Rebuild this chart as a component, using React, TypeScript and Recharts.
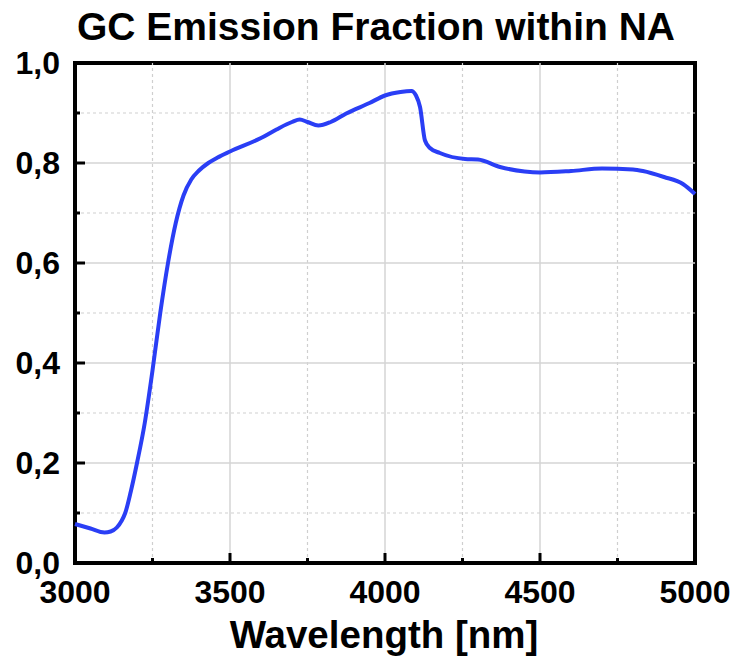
import React from 'react';
import { LineChart, Line, XAxis, YAxis, ReferenceLine, ReferenceArea } from 'recharts';

const wavelength = [
  3000, 3050, 3095, 3115, 3135, 3150, 3162, 3180, 3200, 3225, 3250, 3275, 3300, 3325, 3350, 3375,
  3400, 3430, 3460, 3500, 3600, 3650, 3700, 3725, 3750, 3785, 3825, 3875, 3950, 4000, 4050,
  4085, 4100, 4113, 4129, 4145, 4177, 4258, 4300, 4371, 4450, 4500, 4600, 4700, 4800, 4832,
  4900, 4961, 5000,
];
const fraction = [
  0.078, 0.069, 0.061, 0.063, 0.071, 0.084, 0.1, 0.143, 0.2, 0.28, 0.385, 0.5, 0.6, 0.68, 0.735, 0.767,
  0.785, 0.8, 0.811, 0.823, 0.85, 0.867, 0.882, 0.887, 0.882, 0.875, 0.882, 0.899, 0.92, 0.935, 0.942,
  0.944, 0.935, 0.912, 0.845, 0.83, 0.82, 0.808, 0.807, 0.792, 0.783, 0.781, 0.784, 0.789, 0.787, 0.784,
  0.772, 0.758, 0.738,
];

const xTicks = [3000, 3250, 3500, 3750, 4000, 4250, 4500, 4750, 5000];
const xMajor = [3000, 3500, 4000, 4500, 5000];
const yTicks = [0, 0.1, 0.2, 0.3, 0.4, 0.5, 0.6, 0.7, 0.8, 0.9, 1.0];
const yMajor = [0, 0.2, 0.4, 0.6, 0.8, 1.0];

const title = 'GC Emission Fraction within NA';
const xLabel = 'Wavelength [nm]';

const data = wavelength.map((w, i) => ({ w, f: fraction[i] }));

const FONT = '"Liberation Sans", Arial, Helvetica, sans-serif';
const Y_MARGIN = 15;
const X_MARGIN = 10;

const isYMajor = (v: number) => yMajor.some((m) => Math.abs(m - v) < 1e-9);
const isXMajor = (v: number) => xMajor.includes(v);

function YTick(props: any) {
  const { x, y, payload } = props;
  const v = payload.value as number;
  const axisX = x + Y_MARGIN;
  const major = isYMajor(v);
  const edge = v === 0 || Math.abs(v - 1) < 1e-9;
  return (
    <g>
      {!edge && (
        <line x1={axisX} x2={axisX + (major ? 10 : 5)} y1={y} y2={y} stroke="#000" strokeWidth={3} />
      )}
      {major && (
        <text x={x} y={y} dy={11} textAnchor="end" fontFamily={FONT} fontWeight="bold" fontSize={32} fill="#000">
          {v.toFixed(1).replace('.', ',')}
        </text>
      )}
    </g>
  );
}

function XTick(props: any) {
  const { x, y, payload } = props;
  const v = payload.value as number;
  const axisY = y - X_MARGIN;
  const major = isXMajor(v);
  const edge = v === 3000 || v === 5000;
  return (
    <g>
      {!edge && (
        <line x1={x} x2={x} y1={axisY} y2={axisY - (major ? 10 : 5)} stroke="#000" strokeWidth={3} />
      )}
      {major && (
        <text x={x} y={axisY} dy={40} textAnchor="middle" fontFamily={FONT} fontWeight="bold" fontSize={32} fill="#000">
          {String(v)}
        </text>
      )}
    </g>
  );
}

export default function App() {
  return (
    <div style={{ position: 'absolute', left: 0, top: 0, width: 737, height: 663, background: '#fff' }}>
      <LineChart
        width={737}
        height={663}
        data={data}
        margin={{ top: 63, right: 42, bottom: 40, left: 0 }}
      >
        {xTicks.filter((t) => !isXMajor(t)).map((t) => (
          <ReferenceLine key={'xm' + t} x={t} stroke="#cfcfcf" strokeWidth={1.2} strokeDasharray="3 3" />
        ))}
        {xTicks.filter((t) => isXMajor(t) && t !== 3000 && t !== 5000).map((t) => (
          <ReferenceLine key={'xM' + t} x={t} stroke="#d4d4d4" strokeWidth={1.5} />
        ))}
        {yTicks.filter((t) => !isYMajor(t)).map((t) => (
          <ReferenceLine key={'ym' + t} y={t} stroke="#cfcfcf" strokeWidth={1.2} strokeDasharray="3 3" />
        ))}
        {yTicks.filter((t) => isYMajor(t) && t !== 0 && t !== 1).map((t) => (
          <ReferenceLine key={'yM' + t} y={t} stroke="#d4d4d4" strokeWidth={1.5} />
        ))}
        <XAxis
          dataKey="w"
          type="number"
          domain={[3000, 5000]}
          ticks={xTicks}
          interval={0}
          height={60}
          tickSize={0}
          tickMargin={X_MARGIN}
          axisLine={false}
          tickLine={false}
          tick={<XTick />}
        />
        <YAxis
          type="number"
          domain={[0, 1]}
          ticks={yTicks}
          interval={0}
          width={75}
          tickSize={0}
          tickMargin={Y_MARGIN}
          axisLine={false}
          tickLine={false}
          tick={<YTick />}
        />
        <Line
          type="monotone"
          dataKey="f"
          stroke="#2a3ef5"
          strokeWidth={4}
          dot={false}
          isAnimationActive={false}
        />
        <ReferenceArea x1={3000} x2={5000} y1={0} y2={1} fill="none" stroke="#000" strokeWidth={4} />
      </LineChart>
      <svg width={737} height={663} style={{ position: 'absolute', left: 0, top: 0, pointerEvents: 'none' }}>
        <text x={376} y={40} textAnchor="middle" fontFamily={FONT} fontWeight="bold" fontSize={39} fill="#000">
          {title}
        </text>
        <text x={384} y={648} textAnchor="middle" fontFamily={FONT} fontWeight="bold" fontSize={38.5} fill="#000">
          {xLabel}
        </text>
      </svg>
    </div>
  );
}
